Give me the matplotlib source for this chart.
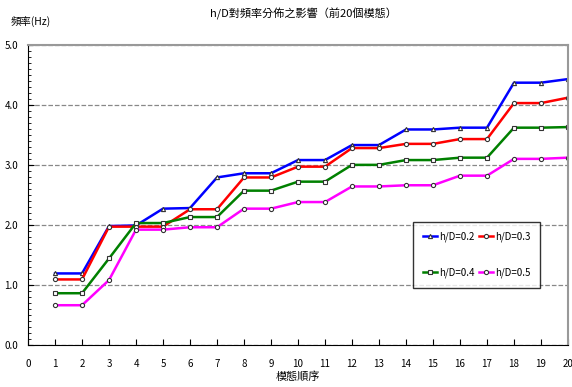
import matplotlib.pyplot as plt
from matplotlib.ticker import MultipleLocator, FormatStrFormatter

plt.rcParams['font.family'] = ['Noto Sans CJK TC', 'DejaVu Sans']

# 模態順序
modes = list(range(1, 21))

# 各 h/D 的頻率 (Hz)
hd_02 = [1.19, 1.19, 1.98, 1.99, 2.27, 2.28, 2.79, 2.86, 2.86, 3.08,
         3.08, 3.33, 3.33, 3.59, 3.59, 3.62, 3.62, 4.37, 4.37, 4.43]
hd_03 = [1.09, 1.09, 1.97, 1.97, 1.97, 2.26, 2.26, 2.79, 2.79, 2.97,
         2.97, 3.28, 3.28, 3.35, 3.35, 3.43, 3.43, 4.03, 4.03, 4.12]
hd_04 = [0.86, 0.86, 1.44, 2.03, 2.03, 2.13, 2.13, 2.57, 2.57, 2.72,
         2.72, 3.00, 3.00, 3.08, 3.08, 3.12, 3.12, 3.62, 3.62, 3.63]
hd_05 = [0.66, 0.66, 1.08, 1.92, 1.92, 1.96, 1.96, 2.27, 2.27, 2.38,
         2.38, 2.64, 2.64, 2.66, 2.66, 2.82, 2.82, 3.10, 3.10, 3.12]

labels = ['h/D=0.2', 'h/D=0.3', 'h/D=0.4', 'h/D=0.5']

fig = plt.figure(figsize=(5.72, 3.87), dpi=100)
ax = fig.add_axes([0.049, 0.109, 0.944, 0.775])

styles = [
    (hd_02, '#0000ff', '^'),
    (hd_03, '#ff0000', 'o'),
    (hd_04, '#008000', 's'),
    (hd_05, '#ff00ff', 'o'),
]
lines = []
for (vals, col, mk), lab in zip(styles, labels):
    ln, = ax.plot(modes, vals, color=col, lw=1.8, marker=mk, markersize=3,
                  markerfacecolor='white', markeredgecolor='#333333',
                  markeredgewidth=0.8, label=lab)
    lines.append(ln)

ax.set_xlim(0, 20)
ax.set_ylim(0, 5)
ax.xaxis.set_major_locator(MultipleLocator(1))
ax.yaxis.set_major_locator(MultipleLocator(1))
ax.yaxis.set_minor_locator(MultipleLocator(0.1))
ax.yaxis.set_major_formatter(FormatStrFormatter('%.1f'))
ax.tick_params(axis='both', direction='in', labelsize=7, length=4)
ax.tick_params(axis='y', which='minor', direction='in', length=2)
ax.tick_params(axis='x', pad=10)
ax.tick_params(axis='y', pad=7)

ax.grid(axis='y', which='major', linestyle='--', color='#888888', lw=0.9)
ax.set_axisbelow(True)

for side in ['top', 'right']:
    ax.spines[side].set_color('#999999')
    ax.spines[side].set_linewidth(1.5)
for side in ['left', 'bottom']:
    ax.spines[side].set_color('black')

# 圖例：第一列 0.2 / 0.3，第二列 0.4 / 0.5
order = [0, 2, 1, 3]
leg = ax.legend([lines[i] for i in order], [labels[i] for i in order],
                ncol=2, loc='upper left', bbox_to_anchor=(0.713, 0.41),
                fontsize=7, frameon=True, fancybox=False, edgecolor='black',
                handlelength=1.5, handletextpad=0.2, columnspacing=0.4,
                labelspacing=2.6, borderpad=1.0, borderaxespad=0)
leg.get_frame().set_linewidth(1)

fig.text(0.53, 0.965, 'h/D對頻率分佈之影響（前20個模態）', ha='center',
         va='center', fontsize=8)
fig.text(0.018, 0.945, '頻率(Hz)', ha='left', va='center', fontsize=7.5)
ax.set_xlabel('模態順序', fontsize=8, labelpad=2)

fig.savefig('out.png', dpi=100)
